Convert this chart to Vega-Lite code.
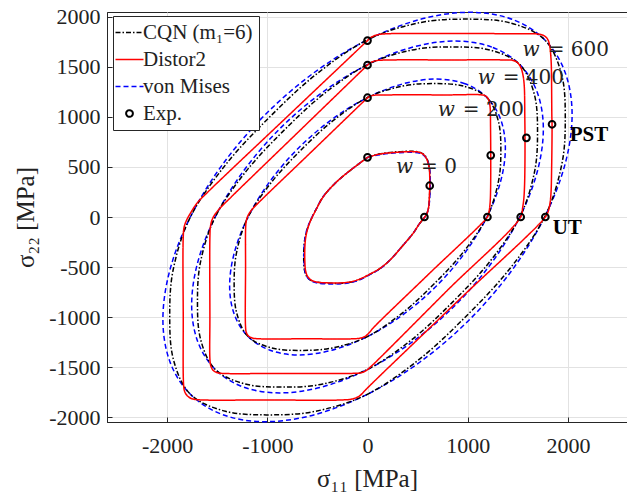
{
"$schema": "https://vega.github.io/schema/vega-lite/v6.json",
"width": 521, "height": 410,
"autosize": "none",
"padding": {"left": 107, "top": 12, "right": 0, "bottom": 72},
"background": "white",
"config": {"view": {"stroke": "#262626", "strokeWidth": 1}, "font": "Liberation Serif", "axis": {"labelFont": "Liberation Serif", "titleFont": "Liberation Serif"}, "legend": {"labelFont": "Liberation Serif"}},
"datasets": {
"curves": [
{"g":"e","m":"V","w":200,"i":0,"x":1192,"y":1192},{"g":"e","m":"V","w":200,"i":1,"x":973,"y":1329},{"g":"e","m":"V","w":200,"i":2,"x":688,"y":1376},{"g":"e","m":"V","w":200,"i":3,"x":356,"y":1329},{"g":"e","m":"V","w":200,"i":4,"x":0,"y":1192},{"g":"e","m":"V","w":200,"i":5,"x":-356,"y":973},{"g":"e","m":"V","w":200,"i":6,"x":-688,"y":688},{"g":"e","m":"V","w":200,"i":7,"x":-973,"y":356},{"g":"e","m":"V","w":200,"i":8,"x":-1192,"y":0},{"g":"e","m":"V","w":200,"i":9,"x":-1329,"y":-356},{"g":"e","m":"V","w":200,"i":10,"x":-1376,"y":-688},{"g":"e","m":"V","w":200,"i":11,"x":-1329,"y":-973},{"g":"e","m":"V","w":200,"i":12,"x":-1192,"y":-1192},{"g":"e","m":"V","w":200,"i":13,"x":-973,"y":-1329},{"g":"e","m":"V","w":200,"i":14,"x":-688,"y":-1376},{"g":"e","m":"V","w":200,"i":15,"x":-356,"y":-1329},{"g":"e","m":"V","w":200,"i":16,"x":0,"y":-1192},{"g":"e","m":"V","w":200,"i":17,"x":356,"y":-973},{"g":"e","m":"V","w":200,"i":18,"x":688,"y":-688},{"g":"e","m":"V","w":200,"i":19,"x":973,"y":-356},{"g":"e","m":"V","w":200,"i":20,"x":1192,"y":0},{"g":"e","m":"V","w":200,"i":21,"x":1329,"y":356},{"g":"e","m":"V","w":200,"i":22,"x":1376,"y":688},{"g":"e","m":"V","w":200,"i":23,"x":1329,"y":973},
{"g":"e","m":"V","w":400,"i":0,"x":1520,"y":1520},{"g":"e","m":"V","w":400,"i":1,"x":1241,"y":1695},{"g":"e","m":"V","w":400,"i":2,"x":878,"y":1755},{"g":"e","m":"V","w":400,"i":3,"x":454,"y":1695},{"g":"e","m":"V","w":400,"i":4,"x":0,"y":1520},{"g":"e","m":"V","w":400,"i":5,"x":-454,"y":1241},{"g":"e","m":"V","w":400,"i":6,"x":-878,"y":878},{"g":"e","m":"V","w":400,"i":7,"x":-1241,"y":454},{"g":"e","m":"V","w":400,"i":8,"x":-1520,"y":0},{"g":"e","m":"V","w":400,"i":9,"x":-1695,"y":-454},{"g":"e","m":"V","w":400,"i":10,"x":-1755,"y":-878},{"g":"e","m":"V","w":400,"i":11,"x":-1695,"y":-1241},{"g":"e","m":"V","w":400,"i":12,"x":-1520,"y":-1520},{"g":"e","m":"V","w":400,"i":13,"x":-1241,"y":-1695},{"g":"e","m":"V","w":400,"i":14,"x":-878,"y":-1755},{"g":"e","m":"V","w":400,"i":15,"x":-454,"y":-1695},{"g":"e","m":"V","w":400,"i":16,"x":0,"y":-1520},{"g":"e","m":"V","w":400,"i":17,"x":454,"y":-1241},{"g":"e","m":"V","w":400,"i":18,"x":878,"y":-878},{"g":"e","m":"V","w":400,"i":19,"x":1241,"y":-454},{"g":"e","m":"V","w":400,"i":20,"x":1520,"y":0},{"g":"e","m":"V","w":400,"i":21,"x":1695,"y":454},{"g":"e","m":"V","w":400,"i":22,"x":1755,"y":878},{"g":"e","m":"V","w":400,"i":23,"x":1695,"y":1241},
{"g":"e","m":"V","w":600,"i":0,"x":1768,"y":1768},{"g":"e","m":"V","w":600,"i":1,"x":1444,"y":1972},{"g":"e","m":"V","w":600,"i":2,"x":1021,"y":2042},{"g":"e","m":"V","w":600,"i":3,"x":528,"y":1972},{"g":"e","m":"V","w":600,"i":4,"x":0,"y":1768},{"g":"e","m":"V","w":600,"i":5,"x":-528,"y":1444},{"g":"e","m":"V","w":600,"i":6,"x":-1021,"y":1021},{"g":"e","m":"V","w":600,"i":7,"x":-1444,"y":528},{"g":"e","m":"V","w":600,"i":8,"x":-1768,"y":0},{"g":"e","m":"V","w":600,"i":9,"x":-1972,"y":-528},{"g":"e","m":"V","w":600,"i":10,"x":-2042,"y":-1021},{"g":"e","m":"V","w":600,"i":11,"x":-1972,"y":-1444},{"g":"e","m":"V","w":600,"i":12,"x":-1768,"y":-1768},{"g":"e","m":"V","w":600,"i":13,"x":-1444,"y":-1972},{"g":"e","m":"V","w":600,"i":14,"x":-1021,"y":-2042},{"g":"e","m":"V","w":600,"i":15,"x":-528,"y":-1972},{"g":"e","m":"V","w":600,"i":16,"x":0,"y":-1768},{"g":"e","m":"V","w":600,"i":17,"x":528,"y":-1444},{"g":"e","m":"V","w":600,"i":18,"x":1021,"y":-1021},{"g":"e","m":"V","w":600,"i":19,"x":1444,"y":-528},{"g":"e","m":"V","w":600,"i":20,"x":1768,"y":0},{"g":"e","m":"V","w":600,"i":21,"x":1972,"y":528},{"g":"e","m":"V","w":600,"i":22,"x":2042,"y":1021},{"g":"e","m":"V","w":600,"i":23,"x":1972,"y":1444},
{"g":"e","m":"C","w":200,"i":0,"x":1192,"y":1192},{"g":"e","m":"C","w":200,"i":1,"x":956,"y":1306},{"g":"e","m":"C","w":200,"i":2,"x":666,"y":1331},{"g":"e","m":"C","w":200,"i":3,"x":350,"y":1306},{"g":"e","m":"C","w":200,"i":4,"x":0,"y":1192},{"g":"e","m":"C","w":200,"i":5,"x":-350,"y":956},{"g":"e","m":"C","w":200,"i":6,"x":-666,"y":666},{"g":"e","m":"C","w":200,"i":7,"x":-956,"y":350},{"g":"e","m":"C","w":200,"i":8,"x":-1192,"y":0},{"g":"e","m":"C","w":200,"i":9,"x":-1306,"y":-350},{"g":"e","m":"C","w":200,"i":10,"x":-1331,"y":-666},{"g":"e","m":"C","w":200,"i":11,"x":-1306,"y":-956},{"g":"e","m":"C","w":200,"i":12,"x":-1192,"y":-1192},{"g":"e","m":"C","w":200,"i":13,"x":-956,"y":-1306},{"g":"e","m":"C","w":200,"i":14,"x":-666,"y":-1331},{"g":"e","m":"C","w":200,"i":15,"x":-350,"y":-1306},{"g":"e","m":"C","w":200,"i":16,"x":0,"y":-1192},{"g":"e","m":"C","w":200,"i":17,"x":350,"y":-956},{"g":"e","m":"C","w":200,"i":18,"x":666,"y":-666},{"g":"e","m":"C","w":200,"i":19,"x":956,"y":-350},{"g":"e","m":"C","w":200,"i":20,"x":1192,"y":0},{"g":"e","m":"C","w":200,"i":21,"x":1306,"y":350},{"g":"e","m":"C","w":200,"i":22,"x":1331,"y":666},{"g":"e","m":"C","w":200,"i":23,"x":1306,"y":956},
{"g":"e","m":"C","w":400,"i":0,"x":1520,"y":1520},{"g":"e","m":"C","w":400,"i":1,"x":1220,"y":1666},{"g":"e","m":"C","w":400,"i":2,"x":849,"y":1697},{"g":"e","m":"C","w":400,"i":3,"x":446,"y":1666},{"g":"e","m":"C","w":400,"i":4,"x":0,"y":1520},{"g":"e","m":"C","w":400,"i":5,"x":-446,"y":1220},{"g":"e","m":"C","w":400,"i":6,"x":-849,"y":849},{"g":"e","m":"C","w":400,"i":7,"x":-1220,"y":446},{"g":"e","m":"C","w":400,"i":8,"x":-1520,"y":0},{"g":"e","m":"C","w":400,"i":9,"x":-1666,"y":-446},{"g":"e","m":"C","w":400,"i":10,"x":-1697,"y":-849},{"g":"e","m":"C","w":400,"i":11,"x":-1666,"y":-1220},{"g":"e","m":"C","w":400,"i":12,"x":-1520,"y":-1520},{"g":"e","m":"C","w":400,"i":13,"x":-1220,"y":-1666},{"g":"e","m":"C","w":400,"i":14,"x":-849,"y":-1697},{"g":"e","m":"C","w":400,"i":15,"x":-446,"y":-1666},{"g":"e","m":"C","w":400,"i":16,"x":0,"y":-1520},{"g":"e","m":"C","w":400,"i":17,"x":446,"y":-1220},{"g":"e","m":"C","w":400,"i":18,"x":849,"y":-849},{"g":"e","m":"C","w":400,"i":19,"x":1220,"y":-446},{"g":"e","m":"C","w":400,"i":20,"x":1520,"y":0},{"g":"e","m":"C","w":400,"i":21,"x":1666,"y":446},{"g":"e","m":"C","w":400,"i":22,"x":1697,"y":849},{"g":"e","m":"C","w":400,"i":23,"x":1666,"y":1220},
{"g":"e","m":"C","w":600,"i":0,"x":1768,"y":1768},{"g":"e","m":"C","w":600,"i":1,"x":1418,"y":1938},{"g":"e","m":"C","w":600,"i":2,"x":987,"y":1974},{"g":"e","m":"C","w":600,"i":3,"x":519,"y":1938},{"g":"e","m":"C","w":600,"i":4,"x":0,"y":1768},{"g":"e","m":"C","w":600,"i":5,"x":-519,"y":1418},{"g":"e","m":"C","w":600,"i":6,"x":-987,"y":987},{"g":"e","m":"C","w":600,"i":7,"x":-1418,"y":519},{"g":"e","m":"C","w":600,"i":8,"x":-1768,"y":0},{"g":"e","m":"C","w":600,"i":9,"x":-1938,"y":-519},{"g":"e","m":"C","w":600,"i":10,"x":-1974,"y":-987},{"g":"e","m":"C","w":600,"i":11,"x":-1938,"y":-1418},{"g":"e","m":"C","w":600,"i":12,"x":-1768,"y":-1768},{"g":"e","m":"C","w":600,"i":13,"x":-1418,"y":-1938},{"g":"e","m":"C","w":600,"i":14,"x":-987,"y":-1974},{"g":"e","m":"C","w":600,"i":15,"x":-519,"y":-1938},{"g":"e","m":"C","w":600,"i":16,"x":0,"y":-1768},{"g":"e","m":"C","w":600,"i":17,"x":519,"y":-1418},{"g":"e","m":"C","w":600,"i":18,"x":987,"y":-987},{"g":"e","m":"C","w":600,"i":19,"x":1418,"y":-519},{"g":"e","m":"C","w":600,"i":20,"x":1768,"y":0},{"g":"e","m":"C","w":600,"i":21,"x":1938,"y":519},{"g":"e","m":"C","w":600,"i":22,"x":1974,"y":987},{"g":"e","m":"C","w":600,"i":23,"x":1938,"y":1418},
{"g":"t","m":"C","w":0,"i":0,"x":0,"y":595},{"g":"t","m":"C","w":0,"i":1,"x":123,"y":630},{"g":"t","m":"C","w":0,"i":2,"x":289,"y":650},{"g":"t","m":"C","w":0,"i":3,"x":455,"y":655},{"g":"t","m":"C","w":0,"i":4,"x":525,"y":645},{"g":"t","m":"C","w":0,"i":5,"x":565,"y":622},{"g":"t","m":"C","w":0,"i":6,"x":595,"y":578},{"g":"t","m":"C","w":0,"i":7,"x":612,"y":525},{"g":"t","m":"C","w":0,"i":8,"x":620,"y":465},{"g":"t","m":"C","w":0,"i":9,"x":623,"y":400},{"g":"t","m":"C","w":0,"i":10,"x":623,"y":312},{"g":"t","m":"C","w":0,"i":11,"x":619,"y":200},{"g":"t","m":"C","w":0,"i":12,"x":612,"y":103},{"g":"t","m":"C","w":0,"i":13,"x":595,"y":40},{"g":"t","m":"C","w":0,"i":14,"x":572,"y":0},{"g":"t","m":"C","w":0,"i":15,"x":520,"y":-65},{"g":"t","m":"C","w":0,"i":16,"x":455,"y":-163},{"g":"t","m":"C","w":0,"i":17,"x":340,"y":-300},{"g":"t","m":"C","w":0,"i":18,"x":222,"y":-432},{"g":"t","m":"C","w":0,"i":19,"x":120,"y":-518},{"g":"t","m":"C","w":0,"i":20,"x":23,"y":-572},{"g":"t","m":"C","w":0,"i":21,"x":-80,"y":-624},{"g":"t","m":"C","w":0,"i":22,"x":-176,"y":-652},{"g":"t","m":"C","w":0,"i":23,"x":-260,"y":-662},{"g":"t","m":"C","w":0,"i":24,"x":-400,"y":-660},{"g":"t","m":"C","w":0,"i":25,"x":-500,"y":-652},{"g":"t","m":"C","w":0,"i":26,"x":-565,"y":-632},{"g":"t","m":"C","w":0,"i":27,"x":-605,"y":-595},{"g":"t","m":"C","w":0,"i":28,"x":-628,"y":-535},{"g":"t","m":"C","w":0,"i":29,"x":-636,"y":-450},{"g":"t","m":"C","w":0,"i":30,"x":-634,"y":-300},{"g":"t","m":"C","w":0,"i":31,"x":-622,"y":-200},{"g":"t","m":"C","w":0,"i":32,"x":-598,"y":-110},{"g":"t","m":"C","w":0,"i":33,"x":-566,"y":-30},{"g":"t","m":"C","w":0,"i":34,"x":-511,"y":80},{"g":"t","m":"C","w":0,"i":35,"x":-444,"y":200},{"g":"t","m":"C","w":0,"i":36,"x":-330,"y":330},{"g":"t","m":"C","w":0,"i":37,"x":-209,"y":436},{"g":"t","m":"C","w":0,"i":38,"x":-100,"y":520},{"g":"t","m":"C","w":0,"i":39,"x":0,"y":595},
{"g":"t","m":"V","w":0,"i":0,"x":0,"y":595},{"g":"t","m":"V","w":0,"i":1,"x":123,"y":622},{"g":"t","m":"V","w":0,"i":2,"x":289,"y":640},{"g":"t","m":"V","w":0,"i":3,"x":455,"y":645},{"g":"t","m":"V","w":0,"i":4,"x":525,"y":635},{"g":"t","m":"V","w":0,"i":5,"x":565,"y":612},{"g":"t","m":"V","w":0,"i":6,"x":595,"y":570},{"g":"t","m":"V","w":0,"i":7,"x":612,"y":520},{"g":"t","m":"V","w":0,"i":8,"x":622,"y":460},{"g":"t","m":"V","w":0,"i":9,"x":626,"y":390},{"g":"t","m":"V","w":0,"i":10,"x":626,"y":312},{"g":"t","m":"V","w":0,"i":11,"x":622,"y":200},{"g":"t","m":"V","w":0,"i":12,"x":612,"y":103},{"g":"t","m":"V","w":0,"i":13,"x":595,"y":40},{"g":"t","m":"V","w":0,"i":14,"x":572,"y":0},{"g":"t","m":"V","w":0,"i":15,"x":520,"y":-65},{"g":"t","m":"V","w":0,"i":16,"x":455,"y":-163},{"g":"t","m":"V","w":0,"i":17,"x":340,"y":-300},{"g":"t","m":"V","w":0,"i":18,"x":222,"y":-432},{"g":"t","m":"V","w":0,"i":19,"x":120,"y":-520},{"g":"t","m":"V","w":0,"i":20,"x":23,"y":-575},{"g":"t","m":"V","w":0,"i":21,"x":-80,"y":-628},{"g":"t","m":"V","w":0,"i":22,"x":-176,"y":-656},{"g":"t","m":"V","w":0,"i":23,"x":-260,"y":-667},{"g":"t","m":"V","w":0,"i":24,"x":-400,"y":-667},{"g":"t","m":"V","w":0,"i":25,"x":-500,"y":-658},{"g":"t","m":"V","w":0,"i":26,"x":-565,"y":-635},{"g":"t","m":"V","w":0,"i":27,"x":-605,"y":-595},{"g":"t","m":"V","w":0,"i":28,"x":-625,"y":-535},{"g":"t","m":"V","w":0,"i":29,"x":-632,"y":-450},{"g":"t","m":"V","w":0,"i":30,"x":-632,"y":-300},{"g":"t","m":"V","w":0,"i":31,"x":-622,"y":-200},{"g":"t","m":"V","w":0,"i":32,"x":-600,"y":-110},{"g":"t","m":"V","w":0,"i":33,"x":-568,"y":-30},{"g":"t","m":"V","w":0,"i":34,"x":-512,"y":80},{"g":"t","m":"V","w":0,"i":35,"x":-445,"y":200},{"g":"t","m":"V","w":0,"i":36,"x":-330,"y":330},{"g":"t","m":"V","w":0,"i":37,"x":-209,"y":436},{"g":"t","m":"V","w":0,"i":38,"x":-100,"y":520},{"g":"t","m":"V","w":0,"i":39,"x":0,"y":595},
{"g":"t","m":"D","w":0,"i":0,"x":0,"y":595},{"g":"t","m":"D","w":0,"i":1,"x":123,"y":628},{"g":"t","m":"D","w":0,"i":2,"x":289,"y":645},{"g":"t","m":"D","w":0,"i":3,"x":455,"y":652},{"g":"t","m":"D","w":0,"i":4,"x":520,"y":645},{"g":"t","m":"D","w":0,"i":5,"x":560,"y":622},{"g":"t","m":"D","w":0,"i":6,"x":590,"y":580},{"g":"t","m":"D","w":0,"i":7,"x":607,"y":530},{"g":"t","m":"D","w":0,"i":8,"x":618,"y":470},{"g":"t","m":"D","w":0,"i":9,"x":621,"y":400},{"g":"t","m":"D","w":0,"i":10,"x":621,"y":312},{"g":"t","m":"D","w":0,"i":11,"x":617,"y":200},{"g":"t","m":"D","w":0,"i":12,"x":611,"y":103},{"g":"t","m":"D","w":0,"i":13,"x":595,"y":40},{"g":"t","m":"D","w":0,"i":14,"x":572,"y":0},{"g":"t","m":"D","w":0,"i":15,"x":520,"y":-65},{"g":"t","m":"D","w":0,"i":16,"x":455,"y":-163},{"g":"t","m":"D","w":0,"i":17,"x":340,"y":-300},{"g":"t","m":"D","w":0,"i":18,"x":222,"y":-432},{"g":"t","m":"D","w":0,"i":19,"x":120,"y":-515},{"g":"t","m":"D","w":0,"i":20,"x":23,"y":-570},{"g":"t","m":"D","w":0,"i":21,"x":-80,"y":-620},{"g":"t","m":"D","w":0,"i":22,"x":-176,"y":-648},{"g":"t","m":"D","w":0,"i":23,"x":-260,"y":-657},{"g":"t","m":"D","w":0,"i":24,"x":-400,"y":-657},{"g":"t","m":"D","w":0,"i":25,"x":-500,"y":-650},{"g":"t","m":"D","w":0,"i":26,"x":-560,"y":-630},{"g":"t","m":"D","w":0,"i":27,"x":-598,"y":-592},{"g":"t","m":"D","w":0,"i":28,"x":-618,"y":-535},{"g":"t","m":"D","w":0,"i":29,"x":-625,"y":-450},{"g":"t","m":"D","w":0,"i":30,"x":-625,"y":-300},{"g":"t","m":"D","w":0,"i":31,"x":-616,"y":-200},{"g":"t","m":"D","w":0,"i":32,"x":-595,"y":-110},{"g":"t","m":"D","w":0,"i":33,"x":-565,"y":-30},{"g":"t","m":"D","w":0,"i":34,"x":-510,"y":80},{"g":"t","m":"D","w":0,"i":35,"x":-443,"y":200},{"g":"t","m":"D","w":0,"i":36,"x":-330,"y":330},{"g":"t","m":"D","w":0,"i":37,"x":-209,"y":436},{"g":"t","m":"D","w":0,"i":38,"x":-100,"y":520},{"g":"t","m":"D","w":0,"i":39,"x":0,"y":595},
{"g":"t","m":"D","w":200,"i":0,"x":0,"y":1190},{"g":"t","m":"D","w":200,"i":1,"x":30,"y":1207},{"g":"t","m":"D","w":200,"i":2,"x":80,"y":1216},{"g":"t","m":"D","w":200,"i":3,"x":200,"y":1218},{"g":"t","m":"D","w":200,"i":4,"x":800,"y":1218},{"g":"t","m":"D","w":200,"i":5,"x":1150,"y":1217},{"g":"t","m":"D","w":200,"i":6,"x":1182,"y":1205},{"g":"t","m":"D","w":200,"i":7,"x":1205,"y":1178},{"g":"t","m":"D","w":200,"i":8,"x":1218,"y":1135},{"g":"t","m":"D","w":200,"i":9,"x":1225,"y":1080},{"g":"t","m":"D","w":200,"i":10,"x":1228,"y":900},{"g":"t","m":"D","w":200,"i":11,"x":1230,"y":615},{"g":"t","m":"D","w":200,"i":12,"x":1229,"y":300},{"g":"t","m":"D","w":200,"i":13,"x":1225,"y":160},{"g":"t","m":"D","w":200,"i":14,"x":1217,"y":75},{"g":"t","m":"D","w":200,"i":15,"x":1207,"y":25},{"g":"t","m":"D","w":200,"i":16,"x":1197,"y":0},{"g":"t","m":"D","w":200,"i":17,"x":600,"y":-580},{"g":"t","m":"D","w":200,"i":18,"x":63,"y":-1100},{"g":"t","m":"D","w":200,"i":19,"x":20,"y":-1150},{"g":"t","m":"D","w":200,"i":20,"x":-20,"y":-1188},{"g":"t","m":"D","w":200,"i":21,"x":-70,"y":-1208},{"g":"t","m":"D","w":200,"i":22,"x":-150,"y":-1215},{"g":"t","m":"D","w":200,"i":23,"x":-600,"y":-1215},{"g":"t","m":"D","w":200,"i":24,"x":-1100,"y":-1214},{"g":"t","m":"D","w":200,"i":25,"x":-1150,"y":-1207},{"g":"t","m":"D","w":200,"i":26,"x":-1190,"y":-1185},{"g":"t","m":"D","w":200,"i":27,"x":-1210,"y":-1150},{"g":"t","m":"D","w":200,"i":28,"x":-1217,"y":-1100},{"g":"t","m":"D","w":200,"i":29,"x":-1217,"y":-500},{"g":"t","m":"D","w":200,"i":30,"x":-1216,"y":-100},{"g":"t","m":"D","w":200,"i":31,"x":-1210,"y":-40},{"g":"t","m":"D","w":200,"i":32,"x":-1195,"y":10},{"g":"t","m":"D","w":200,"i":33,"x":-1165,"y":60},{"g":"t","m":"D","w":200,"i":34,"x":-1120,"y":110},{"g":"t","m":"D","w":200,"i":35,"x":-560,"y":650},{"g":"t","m":"D","w":200,"i":36,"x":0,"y":1190},
{"g":"t","m":"D","w":400,"i":0,"x":0,"y":1516},{"g":"t","m":"D","w":400,"i":1,"x":35,"y":1543},{"g":"t","m":"D","w":400,"i":2,"x":90,"y":1560},{"g":"t","m":"D","w":400,"i":3,"x":200,"y":1566},{"g":"t","m":"D","w":400,"i":4,"x":800,"y":1567},{"g":"t","m":"D","w":400,"i":5,"x":1400,"y":1566},{"g":"t","m":"D","w":400,"i":6,"x":1453,"y":1562},{"g":"t","m":"D","w":400,"i":7,"x":1500,"y":1537},{"g":"t","m":"D","w":400,"i":8,"x":1533,"y":1485},{"g":"t","m":"D","w":400,"i":9,"x":1553,"y":1410},{"g":"t","m":"D","w":400,"i":10,"x":1565,"y":1300},{"g":"t","m":"D","w":400,"i":11,"x":1570,"y":1000},{"g":"t","m":"D","w":400,"i":12,"x":1572,"y":790},{"g":"t","m":"D","w":400,"i":13,"x":1571,"y":500},{"g":"t","m":"D","w":400,"i":14,"x":1567,"y":300},{"g":"t","m":"D","w":400,"i":15,"x":1560,"y":180},{"g":"t","m":"D","w":400,"i":16,"x":1548,"y":90},{"g":"t","m":"D","w":400,"i":17,"x":1529,"y":0},{"g":"t","m":"D","w":400,"i":18,"x":800,"y":-729},{"g":"t","m":"D","w":400,"i":19,"x":100,"y":-1429},{"g":"t","m":"D","w":400,"i":20,"x":30,"y":-1495},{"g":"t","m":"D","w":400,"i":21,"x":-10,"y":-1530},{"g":"t","m":"D","w":400,"i":22,"x":-60,"y":-1553},{"g":"t","m":"D","w":400,"i":23,"x":-150,"y":-1560},{"g":"t","m":"D","w":400,"i":24,"x":-800,"y":-1560},{"g":"t","m":"D","w":400,"i":25,"x":-1450,"y":-1560},{"g":"t","m":"D","w":400,"i":26,"x":-1500,"y":-1553},{"g":"t","m":"D","w":400,"i":27,"x":-1538,"y":-1532},{"g":"t","m":"D","w":400,"i":28,"x":-1562,"y":-1492},{"g":"t","m":"D","w":400,"i":29,"x":-1572,"y":-1430},{"g":"t","m":"D","w":400,"i":30,"x":-1573,"y":-1000},{"g":"t","m":"D","w":400,"i":31,"x":-1573,"y":-200},{"g":"t","m":"D","w":400,"i":32,"x":-1568,"y":-100},{"g":"t","m":"D","w":400,"i":33,"x":-1552,"y":-30},{"g":"t","m":"D","w":400,"i":34,"x":-1520,"y":30},{"g":"t","m":"D","w":400,"i":35,"x":-1470,"y":90},{"g":"t","m":"D","w":400,"i":36,"x":-1360,"y":200},{"g":"t","m":"D","w":400,"i":37,"x":-680,"y":858},{"g":"t","m":"D","w":400,"i":38,"x":0,"y":1516},
{"g":"t","m":"D","w":600,"i":0,"x":0,"y":1760},{"g":"t","m":"D","w":600,"i":1,"x":40,"y":1795},{"g":"t","m":"D","w":600,"i":2,"x":100,"y":1818},{"g":"t","m":"D","w":600,"i":3,"x":200,"y":1828},{"g":"t","m":"D","w":600,"i":4,"x":800,"y":1830},{"g":"t","m":"D","w":600,"i":5,"x":1500,"y":1828},{"g":"t","m":"D","w":600,"i":6,"x":1700,"y":1825},{"g":"t","m":"D","w":600,"i":7,"x":1760,"y":1810},{"g":"t","m":"D","w":600,"i":8,"x":1800,"y":1770},{"g":"t","m":"D","w":600,"i":9,"x":1820,"y":1700},{"g":"t","m":"D","w":600,"i":10,"x":1830,"y":1600},{"g":"t","m":"D","w":600,"i":11,"x":1835,"y":1500},{"g":"t","m":"D","w":600,"i":12,"x":1840,"y":1000},{"g":"t","m":"D","w":600,"i":13,"x":1842,"y":925},{"g":"t","m":"D","w":600,"i":14,"x":1838,"y":500},{"g":"t","m":"D","w":600,"i":15,"x":1832,"y":250},{"g":"t","m":"D","w":600,"i":16,"x":1822,"y":140},{"g":"t","m":"D","w":600,"i":17,"x":1805,"y":60},{"g":"t","m":"D","w":600,"i":18,"x":1775,"y":0},{"g":"t","m":"D","w":600,"i":19,"x":915,"y":-825},{"g":"t","m":"D","w":600,"i":20,"x":56,"y":-1650},{"g":"t","m":"D","w":600,"i":21,"x":-20,"y":-1725},{"g":"t","m":"D","w":600,"i":22,"x":-80,"y":-1785},{"g":"t","m":"D","w":600,"i":23,"x":-150,"y":-1815},{"g":"t","m":"D","w":600,"i":24,"x":-250,"y":-1825},{"g":"t","m":"D","w":600,"i":25,"x":-1000,"y":-1825},{"g":"t","m":"D","w":600,"i":26,"x":-1700,"y":-1822},{"g":"t","m":"D","w":600,"i":27,"x":-1760,"y":-1810},{"g":"t","m":"D","w":600,"i":28,"x":-1800,"y":-1782},{"g":"t","m":"D","w":600,"i":29,"x":-1825,"y":-1740},{"g":"t","m":"D","w":600,"i":30,"x":-1835,"y":-1680},{"g":"t","m":"D","w":600,"i":31,"x":-1839,"y":-1000},{"g":"t","m":"D","w":600,"i":32,"x":-1839,"y":-200},{"g":"t","m":"D","w":600,"i":33,"x":-1830,"y":-100},{"g":"t","m":"D","w":600,"i":34,"x":-1805,"y":-30},{"g":"t","m":"D","w":600,"i":35,"x":-1760,"y":50},{"g":"t","m":"D","w":600,"i":36,"x":-1700,"y":140},{"g":"t","m":"D","w":600,"i":37,"x":-1573,"y":269},{"g":"t","m":"D","w":600,"i":38,"x":-800,"y":1002},{"g":"t","m":"D","w":600,"i":39,"x":0,"y":1760}
],
"exp": [
{"x":0,"y":595},{"x":621,"y":312},{"x":568,"y":0},
{"x":0,"y":1190},{"x":1230,"y":615},{"x":1197,"y":0},
{"x":0,"y":1516},{"x":1586,"y":790},{"x":1529,"y":0},
{"x":0,"y":1760},{"x":1842,"y":925},{"x":1775,"y":0}
],
"wlab": [
{"x":1759,"y":1666,"t":"= 600"},{"x":1310,"y":1383,"t":"= 400"},{"x":911,"y":1067,"t":"= 200"},{"x":495,"y":502,"t":"= 0"}
],
"plab": [
{"x":2018,"y":818,"t":"PST"},{"x":1848,"y":-110,"t":"UT"}
]
},
"encoding": {
"x": {"field": "x", "type": "quantitative", "scale": {"domain": [-2600, 2600], "nice": false, "zero": false},
 "axis": {"values": [-2000, -1000, 0, 1000, 2000], "labelExpr": "'' + datum.value", "title": "σ₁₁ [MPa]", "labelFont": "Liberation Serif", "labelFontSize": 22, "labelColor": "#222222", "titleFont": "Liberation Serif", "titleFontSize": 25, "titleFontWeight": "normal", "titleColor": "#222222", "grid": true, "gridColor": "#e2e2e2", "domainColor": "#262626", "tickColor": "#262626", "tickSize": -5, "labelPadding": 18, "labelFlush": false, "labelOverlap": false, "titleX": 260, "titleY": 64, "titleBaseline": "alphabetic"}},
"y": {"field": "y", "type": "quantitative", "scale": {"domain": [-2045, 2045], "nice": false, "zero": false},
 "axis": {"values": [-2000, -1500, -1000, -500, 0, 500, 1000, 1500, 2000], "labelExpr": "'' + datum.value", "title": "σ₂₂ [MPa]", "labelFont": "Liberation Serif", "labelFontSize": 22, "labelColor": "#222222", "titleFont": "Liberation Serif", "titleFontSize": 25, "titleFontWeight": "normal", "titleColor": "#222222", "grid": true, "gridColor": "#e2e2e2", "domainColor": "#262626", "tickColor": "#262626", "tickSize": -5, "labelPadding": 12, "labelFlush": false, "labelOverlap": false, "titleX": -74, "titleY": 205, "titleAngle": -90, "titleBaseline": "alphabetic"}}
},
"layer": [
{"data": {"name": "curves"}, "transform": [{"filter": "datum.g == 'e'"}],
 "mark": {"type": "line", "interpolate": "cardinal-closed", "strokeWidth": 1.5},
 "encoding": {
  "color": {"field": "m", "type": "nominal", "scale": {"domain": ["C", "D", "V", "E"], "range": ["#000000", "#ff0000", "#0000ff", "#000000"]},
   "legend": {"title": null, "orient": "none", "legendX": 6, "legendY": 4, "direction": "vertical", "fillColor": "white", "strokeColor": "#262626", "padding": 6, "rowPadding": 5, "labelFont": "Liberation Serif", "labelFontSize": 21, "labelColor": "#222222", "symbolSize": 784, "labelOffset": 3,
    "labelExpr": "datum.value == 'C' ? 'CQN (m₁=6)' : datum.value == 'D' ? 'Distor2' : datum.value == 'V' ? 'von Mises' : 'Exp.'",
    "encode": {"symbols": {"update": {
      "shape": {"signal": "datum.value == 'E' ? 'circle' : 'stroke'"},
      "size": {"signal": "datum.value == 'E' ? 45 : 784"},
      "strokeDash": {"signal": "datum.value == 'C' ? [5,2,1.5,2] : datum.value == 'V' ? [5,3] : [1,0]"},
      "strokeWidth": {"signal": "datum.value == 'E' ? 2 : 1.5"},
      "fill": {"value": "transparent"}}}}}},
  "strokeDash": {"field": "m", "type": "nominal", "scale": {"domain": ["C", "D", "V", "E"], "range": [[5, 2, 1.5, 2], [1, 0], [5, 3], [1, 0]]}, "legend": null},
  "detail": {"field": "w", "type": "nominal"},
  "order": {"field": "i", "type": "quantitative"}
 }},
{"data": {"name": "curves"}, "transform": [{"filter": "datum.g == 't'"}],
 "mark": {"type": "line", "interpolate": "catmull-rom", "strokeWidth": 1.5},
 "encoding": {
  "color": {"field": "m", "type": "nominal"},
  "strokeDash": {"field": "m", "type": "nominal", "legend": null},
  "detail": {"field": "w", "type": "nominal"},
  "order": {"field": "i", "type": "quantitative"}
 }},
{"data": {"name": "exp"},
 "mark": {"type": "point", "shape": "circle", "size": 45, "filled": false, "stroke": "#000000", "strokeWidth": 2, "opacity": 1},
 "encoding": {}},
{"data": {"name": "wlab"},
 "mark": {"type": "text", "font": "DejaVu Serif", "fontSize": 20, "fontStyle": "italic", "align": "right", "baseline": "middle", "dx": -4, "color": "#222222"},
 "encoding": {"text": {"value": "w"}}},
{"data": {"name": "wlab"},
 "mark": {"type": "text", "font": "DejaVu Serif", "fontSize": 20, "align": "left", "baseline": "middle", "dx": 4, "color": "#222222"},
 "encoding": {"text": {"field": "t"}}},
{"data": {"name": "plab"},
 "mark": {"type": "text", "font": "Liberation Serif", "fontSize": 21, "fontWeight": "bold", "align": "left", "baseline": "middle", "color": "#000000"},
 "encoding": {"text": {"field": "t"}}}
]
}
